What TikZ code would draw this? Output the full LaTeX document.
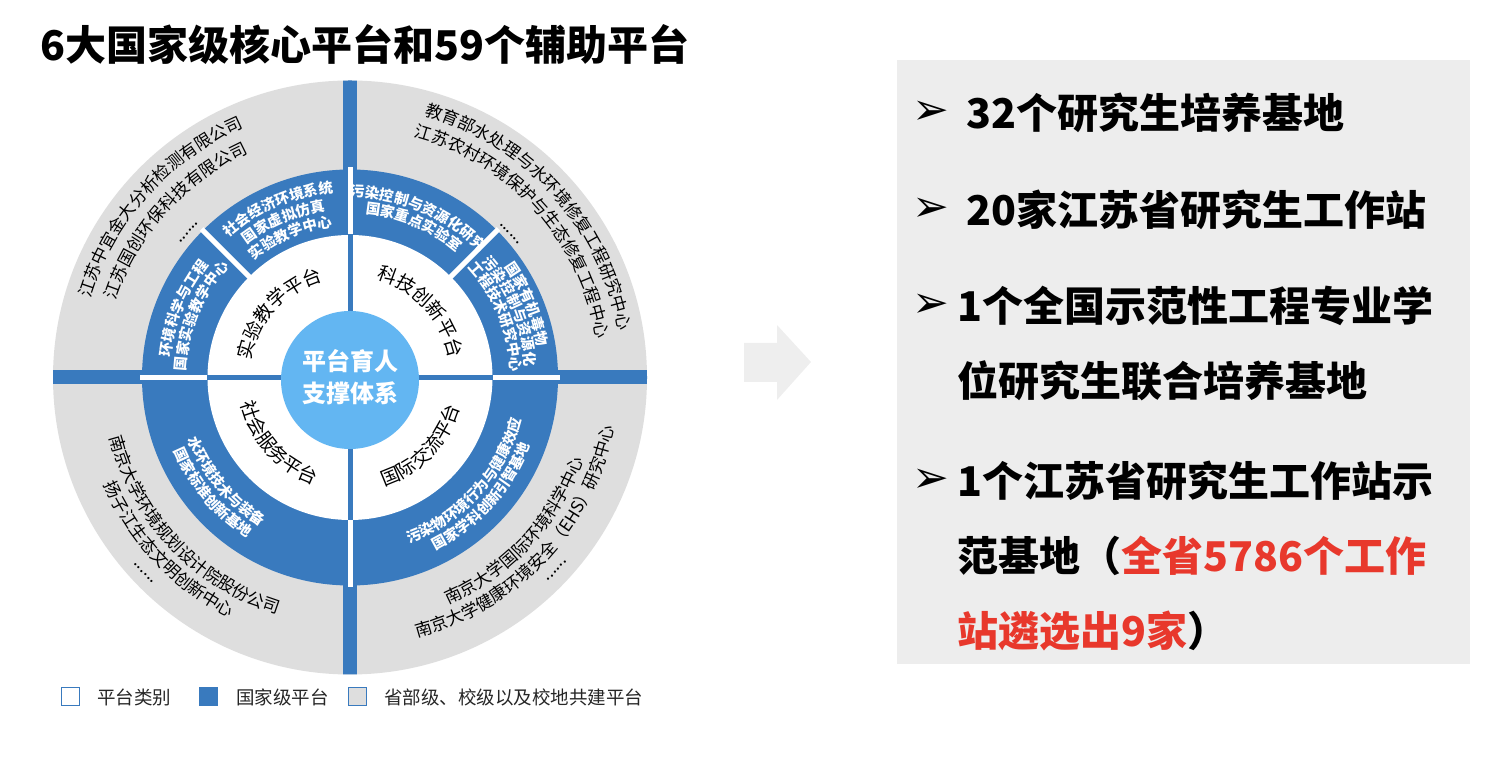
\documentclass[tikz,border=0pt]{standalone}
\usepackage{fontspec}
\setmainfont{Noto Sans CJK SC}
\newfontfamily\symfont{DejaVu Sans}
\usetikzlibrary{calc,decorations.text}
\definecolor{ringblue}{RGB}{57,122,190}
\definecolor{hubblue}{RGB}{99,182,242}
\definecolor{ringgray}{RGB}{222,222,222}
\definecolor{panelgray}{RGB}{237,237,237}
\definecolor{arrowgray}{RGB}{238,238,238}
\definecolor{hotred}{RGB}{232,56,44}
\newcommand\arcup[5][]{\path[decorate,decoration={text along path,text align=center,#1,text={|#4|#5}}]($(O)+(#2+75:#3)$) arc[start angle=#2+75,end angle=#2-75,radius=#3];}
\newcommand\arcdown[5][]{\path[decorate,decoration={text along path,text align=center,#1,text={|#4|#5}}]($(O)+(#2-75:#3)$) arc[start angle=#2-75,end angle=#2+75,radius=#3];}
\begin{document}
\begin{tikzpicture}[x=1pt,y=1pt]
	\tikzset{lbl/.style={anchor=west,inner sep=0pt},
	big/.style={lbl,font=\bfseries\fontsize{41}{41}\selectfont},
	bul/.style={lbl,font=\symfont\fontsize{44}{44}\selectfont},
	key/.style={draw=ringblue,line width=1pt,minimum width=18pt,minimum height=18pt,inner sep=0pt,anchor=west},
	keytext/.style={lbl,font=\fontsize{18.5}{18.5}\selectfont,text=black!85}}
	\def\gfont{\fontsize{17}{17}\selectfont}
	\def\bfont{\bfseries\fontsize{14.5}{14.5}\selectfont}
	\def\wfont{\fontsize{19}{19}\selectfont}
	\useasboundingbox(0,0)rectangle(1504,762);
	\coordinate(O)at(350,384.5);
	\fill[ringgray](O)circle[radius=297];
	\begin{scope}
	\clip(O)circle[radius=297];
	\fill[ringblue](40,377.5)rectangle(660,391.5);
	\fill[ringblue](343,70)rectangle(357,700);
	\end{scope}
	\fill[ringblue](O)circle[radius=208];
	\foreach \a in {0,45,90,135,180,270}
	\draw[white,line width=5pt](O)--++(\a:210);
	\fill[white](O)circle[radius=142.5];
	\foreach \a in {0,90,180,270}
	\draw[ringblue,line width=5pt](O)--++(\a:143);
	\fill[hubblue](350,382)circle[radius=69];
	\node[font=\bfseries\fontsize{24}{24}\selectfont,text=white](hub1)at(350,401){平台育人};
	\node[font=\bfseries\fontsize{24}{24}\selectfont,text=white](hub2)at(350,369){支撑体系};
	\arcup{138}{271.5}{\gfont}{江苏中宜金大分析检测有限公司}
	\arcup{138}{246.5}{\gfont}{江苏国创环保科技有限公司}
	\arcup{138}{216}{\gfont}{......}
	\arcup{42}{272.5}{\gfont}{教育部水处理与水环境修复工程研究中心}
	\arcup{42}{249.5}{\gfont}{江苏农村环境保护与生态修复工程中心}
	\arcup{42}{214}{\gfont}{......}
	\arcdown{223.5}{247.5}{\gfont}{南京大学环境规划设计院股份公司}
	\arcdown{223.5}{268.5}{\gfont}{扬子江生态文明创新中心}
	\arcdown{223.5}{285}{\gfont}{......}
	\arcdown{317}{247.5}{\gfont}{南京大学国际环境科学中心}
	\arcdown{317}{268.5}{\gfont}{南京大学健康环境安全（EHS）研究中心}
	\arcdown{317}{284}{\gfont}{......}
	\arcup[text color=white]{113}{185.5}{\bfont}{社会经济环境系统}
	\arcup[text color=white]{113}{168.5}{\bfont}{国家虚拟仿真}
	\arcup[text color=white]{113}{151.5}{\bfont}{实验教学中心}
	\arcup[text color=white]{157.5}{180.5}{\bfont}{环境科学与工程}
	\arcup[text color=white]{157.5}{164}{\bfont}{国家实验教学中心}
	\arcup[text color=white]{67}{180.5}{\bfont}{污染控制与资源化研究}
	\arcup[text color=white]{67}{164.5}{\bfont}{国家重点实验室}
	\arcup[text color=white]{22.5}{190}{\bfont}{国家有机毒物}
	\arcup[text color=white]{22.5}{175.5}{\bfont}{污染控制与资源化}
	\arcup[text color=white]{22.5}{161}{\bfont}{工程技术研究中心}
	\arcdown[text color=white]{220}{173.5}{\bfont}{水环境技术与装备}
	\arcdown[text color=white]{220}{190.5}{\bfont}{国家标准创新基地}
	\arcdown[text color=white]{318}{176}{\bfont}{污染物环境行为与健康效应}
	\arcdown[text color=white]{318}{192.5}{\bfont}{国家学科创新引智基地}
	\arcup{138}{100.5}{\wfont}{实验教学平台}
	\arcup{43}{101.5}{\wfont}{科技创新平台}
	\arcdown{222.5}{112.5}{\wfont}{社会服务平台}
	\arcdown{316}{114}{\wfont}{国际交流平台}
	\node[lbl,font=\bfseries\fontsize{41}{41}\selectfont](title)at(40,717){6大国家级核心平台和59个辅助平台};
	\fill[arrowgray](744,380)--(777,380)--(777,362)--(811,400)--(777,437)--(777,419)--(744,419)--cycle;
	\fill[panelgray](897,98)rectangle(1470,702);
	\node[bul](m1)at(912,649){➢};
	\node[bul](m2)at(912,552){➢};
	\node[bul](m3)at(912,456){➢};
	\node[bul](m4)at(912,281){➢};
	\node[big](b1)at(966,649){32个研究生培养基地};
	\node[big](b2)at(966,552){20家江苏省研究生工作站};
	\node[big](b3)at(957,456){1个全国示范性工程专业学};
	\node[big](b3b)at(957,381){位研究生联合培养基地};
	\node[big](b4)at(957,281){1个江苏省研究生工作站示};
	\node[big](b4b)at(957,206){范基地（\textcolor{hotred}{全省5786个工作}};
	\node[big](b4c)at(957,131){\textcolor{hotred}{站遴选出9家}）};
	\node[key,fill=white](k1)at(61,65){};
	\node[keytext](t1)at(97,65){平台类别};
	\node[key,fill=ringblue](k2)at(199,65){};
	\node[keytext](t2)at(236,65){国家级平台};
	\node[key,fill=ringgray](k3)at(348,65){};
	\node[keytext](t3)at(384,65){省部级、校级以及校地共建平台};
\end{tikzpicture}
\end{document}
